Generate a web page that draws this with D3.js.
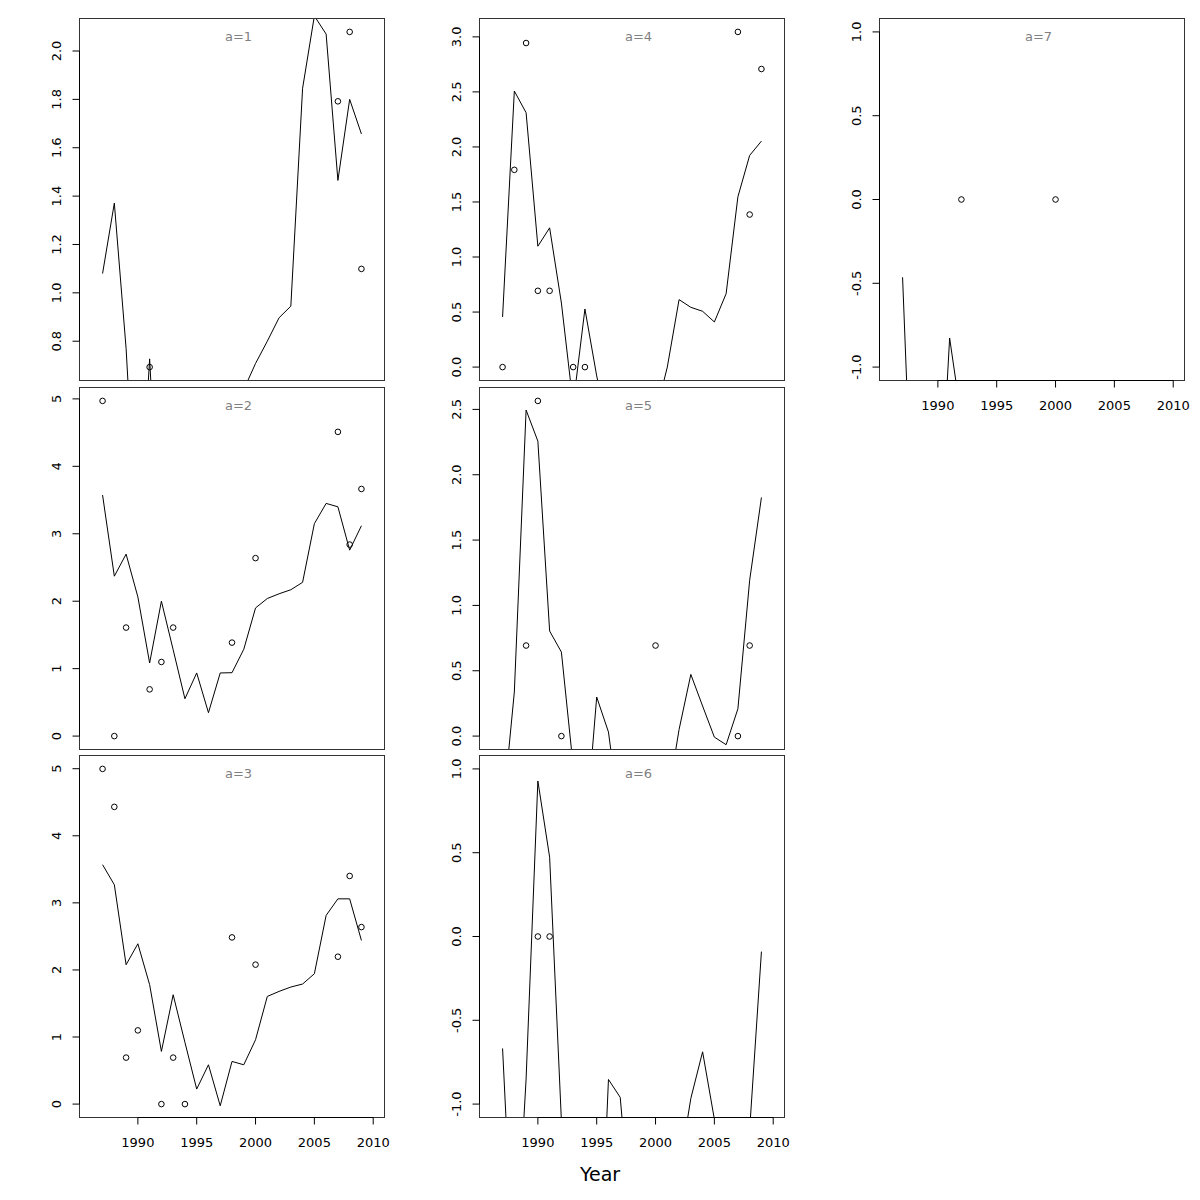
<!DOCTYPE html>
<html><head><meta charset="utf-8">
<script src="https://cdn.jsdelivr.net/npm/d3@7"></script>
<style>
body{margin:0;background:#fff}
text{font-family:"DejaVu Sans",sans-serif}
</style>
</head><body>
<svg id="chart" width="1200" height="1200"></svg>
<script>
// ---------------- data ----------------
const years = [1987,1988,1989,1990,1991,1992,1993,1994,1995,1996,1997,1998,
               1999,2000,2001,2002,2003,2004,2005,2006,2007,2008,2009];
const xDataRange = [1986, 2010];
const xTickValues = [1990, 1995, 2000, 2005, 2010];
const panelLabels = ["a=1","a=2","a=3","a=4","a=5","a=6","a=7"];
const xAxisTitle = "Year";

// fitted lines (one value per year)
const fit1 = [1.08,1.371,0.77,-0.10,0.727,-0.20,0.10,0.25,0.05,0.30,0.15,0.35,
              0.60,0.708,0.80,0.897,0.945,1.846,2.145,2.07,1.465,1.80,1.657];
const fit2 = [3.574,2.371,2.698,2.064,1.084,2.0,1.28,0.554,0.936,0.347,0.936,0.94,
              1.287,1.90,2.04,2.11,2.17,2.28,3.15,3.45,3.40,2.757,3.119];
const fit3 = [3.569,3.27,2.078,2.39,1.78,0.785,1.63,0.92,0.224,0.586,-0.025,0.636,
              0.586,0.959,1.605,1.68,1.745,1.79,1.943,2.813,3.06,3.06,2.44];
const fit4 = [0.455,2.508,2.311,1.098,1.265,0.582,-0.34,0.528,-0.08,-0.6,-0.9,-0.7,
              -1.0,-0.43,0.0,0.613,0.543,0.507,0.41,0.667,1.547,1.923,2.053];
const fit5 = [-0.6,0.337,2.495,2.257,0.804,0.643,-0.23,-0.8,0.299,0.031,-0.65,-0.9,
              -1.1,-0.8,-0.5,0.05,0.472,0.23,-0.008,-0.066,0.209,1.193,1.826];
const fit6 = [-0.668,-2.1,-0.85,0.928,0.473,-1.1,-1.8,-2.2,-2.5,-0.853,-0.96,-1.77,
              -2.0,-1.9,-1.6,-1.40,-0.966,-0.688,-1.09,-1.6,-1.7,-1.15,-0.09];
const fit7 = [-0.464,-2.26,-2.5,-2.1,-0.827,-1.31,-1.8,-2.3,-1.9,-2.4,-2.1,-1.7,
              -2.2,-2.0,-1.6,-2.3,-1.9,-2.1,-1.8,-2.2,-1.7,-2.0,-1.9];

// observed points
const obsYears1 = [1991,2007,2008,2009];
const obs1      = [0.693,1.792,2.079,1.099];
const obsYears2 = [1987,1988,1989,1991,1992,1993,1998,2000,2007,2008,2009];
const obs2      = [4.970,0,1.609,0.693,1.099,1.609,1.386,2.639,4.511,2.840,3.664];
const obsYears3 = [1987,1988,1989,1990,1992,1993,1994,1998,2000,2007,2008,2009];
const obs3      = [4.997,4.431,0.693,1.099,0,0.693,0,2.485,2.079,2.197,3.401,2.639];
const obsYears4 = [1987,1988,1989,1990,1991,1993,1994,2007,2008,2009];
const obs4      = [0,1.792,2.944,0.693,0.693,0,0,3.045,1.386,2.708];
const obsYears5 = [1989,1990,1992,2000,2007,2008];
const obs5      = [0.693,2.565,0,0.693,0,0.693];
const obsYears6 = [1990,1991];
const obs6      = [0,0];
const obsYears7 = [1992,2000];
const obs7      = [0,0];

// ---------------- layout ----------------
const fits = [fit1,fit2,fit3,fit4,fit5,fit6,fit7];
const obsYearsAll = [obsYears1,obsYears2,obsYears3,obsYears4,obsYears5,obsYears6,obsYears7];
const obsAll = [obs1,obs2,obs3,obs4,obs5,obs6,obs7];
const panelCol = [0,0,0,1,1,1,2];
const panelRow = [0,1,2,0,1,2,0];
const panelXAxis = [false,false,true,false,false,true,true];

const lefts = [79.5, 479.5, 879.5];
const tops = [18.5, 387.5, 755.5];
const W = 305, H = 362;

const svg = d3.select("#chart");
const pad4 = ([a,b]) => { const d = (b-a)*0.04; return [a-d, b+d]; };
const fmtMinus = s => s.replace("\u2212","-");

panelLabels.forEach((label, i) => {
  const L = lefts[panelCol[i]], T = tops[panelRow[i]];
  const x = d3.scaleLinear().domain(pad4(xDataRange)).range([L, L+W]);
  let e = d3.extent(obsAll[i]);
  if (e[0] === e[1]) e = [e[0]-1, e[1]+1];
  const y = d3.scaleLinear().domain(pad4(e)).range([T+H, T]);

  const g = svg.append("g");
  const cid = "clip"+i;
  g.append("clipPath").attr("id", cid).append("rect")
    .attr("x", L).attr("y", T).attr("width", W).attr("height", H);

  const data = years.map((yr, k) => ({yr, v: fits[i][k]}));
  g.append("path").datum(data)
    .attr("clip-path", `url(#${cid})`)
    .attr("fill","none").attr("stroke","#000").attr("stroke-width",1)
    .attr("d", d3.line().x(d => x(d.yr)).y(d => y(d.v)));

  const pts = obsYearsAll[i].map((yr, k) => ({yr, v: obsAll[i][k]}));
  g.append("g").attr("clip-path", `url(#${cid})`)
    .selectAll("circle").data(pts).join("circle")
    .attr("cx", d => x(d.yr)).attr("cy", d => y(d.v)).attr("r", 2.8)
    .attr("fill","none").attr("stroke","#000").attr("stroke-width",1);

  // box
  g.append("rect").attr("x", L).attr("y", T).attr("width", W).attr("height", H)
    .attr("fill","none").attr("stroke","#333").attr("stroke-width",1);

  // y axis
  const yt = y.ticks(5);
  const yf = y.tickFormat(5);
  g.append("line").attr("x1", L).attr("x2", L)
    .attr("y1", y(yt[0])).attr("y2", y(yt[yt.length-1]))
    .attr("stroke","#000");
  yt.forEach(t => {
    g.append("line").attr("x1", L).attr("x2", L-7)
      .attr("y1", y(t)).attr("y2", y(t)).attr("stroke","#000");
    g.append("text")
      .attr("transform", `translate(${L-19},${y(t)}) rotate(-90)`)
      .attr("text-anchor","middle").attr("font-size", 13).attr("fill","#000")
      .text(fmtMinus(yf(t)));
  });

  // x axis
  if (panelXAxis[i]) {
    const B = T + H;
    g.append("line").attr("x1", x(xTickValues[0])).attr("x2", x(xTickValues[xTickValues.length-1]))
      .attr("y1", B).attr("y2", B).attr("stroke","#000");
    xTickValues.forEach(t => {
      g.append("line").attr("x1", x(t)).attr("x2", x(t))
        .attr("y1", B).attr("y2", B+7).attr("stroke","#000");
      g.append("text").attr("x", x(t)).attr("y", B+29)
        .attr("text-anchor","middle").attr("font-size",13).attr("fill","#000")
        .text(d3.format("d")(t));
    });
  }

  // panel label
  g.append("text").attr("x", L + W/2 + 6.5).attr("y", T + 22)
    .attr("text-anchor","middle").attr("font-size",13).attr("fill","#7f7f7f")
    .text(label);
});

svg.append("text").attr("x", 600).attr("y", 1181)
  .attr("text-anchor","middle").attr("font-size",19).attr("fill","#000")
  .text(xAxisTitle);
</script>
</body></html>
